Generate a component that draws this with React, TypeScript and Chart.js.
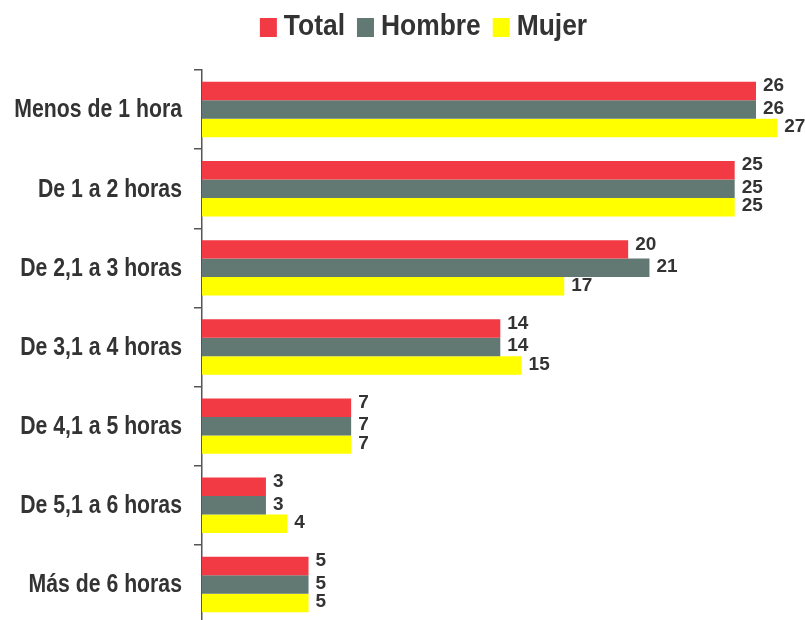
import React, { useEffect, useRef } from "react";
import { Chart, registerables } from "chart.js";

Chart.register(...registerables);

const categories = [
  "Menos de 1 hora",
  "De 1 a 2 horas",
  "De 2,1 a 3 horas",
  "De 3,1 a 4 horas",
  "De 4,1 a 5 horas",
  "De 5,1 a 6 horas",
  "Más de 6 horas",
];
const seriesNames = ["Total", "Hombre", "Mujer"];
const totalValues = [26, 25, 20, 14, 7, 3, 5];
const hombreValues = [26, 25, 21, 14, 7, 3, 5];
const mujerValues = [27, 25, 17, 15, 7, 4, 5];
const colors = ["#F23A45", "#617873", "#FFFF00"];
const labelOffsets = [-5, -1, -1];

const TEXT = "#333333";
const FONT = "'Liberation Sans', Arial, sans-serif";
const SQUEEZE = 0.85;
const LEGEND_SQUEEZE = 0.88;

export default function App() {
  const ref = useRef<HTMLCanvasElement | null>(null);

  useEffect(() => {
    if (!ref.current) return;
    const customLegend = {
      id: "customLegend",
      afterDraw(chart: any) {
        const ctx = chart.ctx;
        ctx.save();
        ctx.font = `bold 30px ${FONT}`;
        const box = 17;
        const gap = 7;
        const spacing = 12;
        const widths = seriesNames.map((n) => ctx.measureText(n).width * LEGEND_SQUEEZE);
        const total = widths.reduce((a, w) => a + box + gap + w, 0) + spacing * (seriesNames.length - 1);
        let x = 423.5 - total / 2;
        ctx.textAlign = "left";
        ctx.textBaseline = "middle";
        seriesNames.forEach((n, i) => {
          ctx.fillStyle = colors[i];
          ctx.fillRect(x, 18, box, 19);
          ctx.fillStyle = TEXT;
          ctx.save();
          ctx.translate(x + box + gap, 27);
          ctx.scale(LEGEND_SQUEEZE, 1);
          ctx.fillText(n, 0, 0);
          ctx.restore();
          x += box + gap + widths[i] + spacing;
        });
        ctx.restore();
      },
    };
    const categoryLabels = {
      id: "categoryLabels",
      afterDraw(chart: any) {
        const ctx = chart.ctx;
        const ys = chart.scales.y;
        ctx.save();
        ctx.font = `bold 25px ${FONT}`;
        ctx.fillStyle = TEXT;
        ctx.textAlign = "right";
        ctx.textBaseline = "middle";
        categories.forEach((c, i) => {
          const y = ys.getPixelForTick(i);
          ctx.save();
          ctx.translate(ys.right - 20, y + 1);
          ctx.scale(SQUEEZE, 1);
          ctx.fillText(c, 0, 0);
          ctx.restore();
        });
        ctx.restore();
      },
    };
    const valueLabels = {
      id: "valueLabels",
      afterDatasetsDraw(chart: any) {
        const ctx = chart.ctx;
        ctx.save();
        ctx.font = `bold 19px ${FONT}`;
        ctx.fillStyle = TEXT;
        ctx.textAlign = "left";
        ctx.textBaseline = "middle";
        chart.data.datasets.forEach((ds: any, di: number) => {
          const meta = chart.getDatasetMeta(di);
          meta.data.forEach((el: any, i: number) => {
            ctx.fillText(String(ds.data[i]), el.x + 7, el.y + labelOffsets[di]);
          });
        });
        ctx.restore();
      },
    };
    const chart = new Chart(ref.current, {
      type: "bar",
      data: {
        labels: categories,
        datasets: [
          { label: seriesNames[0], data: totalValues, backgroundColor: colors[0] },
          { label: seriesNames[1], data: hombreValues, backgroundColor: colors[1] },
          { label: seriesNames[2], data: mujerValues, backgroundColor: colors[2] },
        ],
      },
      options: {
        indexAxis: "y",
        responsive: false,
        animation: false,
        layout: { padding: { left: 0, right: 0, top: 70, bottom: 0 } },
        datasets: { bar: { categoryPercentage: 0.7, barPercentage: 1 } },
        plugins: {
          tooltip: { enabled: false },
          legend: { display: false },
        },
        scales: {
          x: { display: false, min: 0, max: 28.3 },
          y: {
            afterFit(scale: any) {
              scale.width = 202;
              scale.paddingTop = 0;
              scale.paddingBottom = 0;
            },
            border: { display: true, color: "#555555", width: 1.5 },
            grid: {
              display: true,
              drawOnChartArea: false,
              drawTicks: true,
              tickLength: 8,
              color: "#555555",
              lineWidth: 1.5,
              offset: true,
            },
            ticks: { display: false },
          },
        },
      },
      plugins: [valueLabels, categoryLabels, customLegend],
    });
    return () => chart.destroy();
  }, []);

  return (
    <div style={{ position: "fixed", left: 0, top: 0, width: 805, height: 624, background: "#fff" }}>
      <canvas ref={ref} width={805} height={624} style={{ display: "block" }} />
    </div>
  );
}
